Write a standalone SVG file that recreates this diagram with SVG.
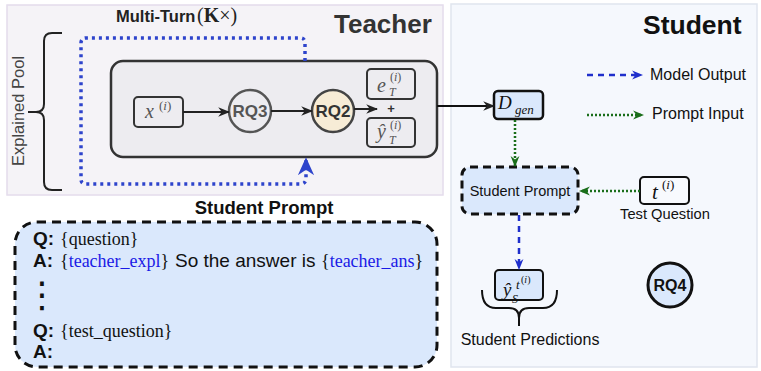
<svg xmlns="http://www.w3.org/2000/svg" width="761" height="371" viewBox="0 0 761 371">
<style>
.sans{font-family:"Liberation Sans",Arial,sans-serif}
.serif{font-family:"Liberation Serif","Times New Roman",serif}
.math{font-family:"Liberation Serif","Times New Roman",serif;font-style:italic}
.b{font-weight:bold}
.blue{fill:#1a1ae6}
</style>
<defs>
<marker id="ak" viewBox="0 0 10 10" refX="9" refY="5" markerWidth="12" markerHeight="12" markerUnits="userSpaceOnUse" orient="auto"><path d="M0,1 L10,5 L0,9 L3,5 z" fill="#222"/></marker>
<marker id="ab" viewBox="0 0 10 10" refX="9" refY="5" markerWidth="11" markerHeight="11" markerUnits="userSpaceOnUse" orient="auto"><path d="M0,1 L10,5 L0,9 L3,5 z" fill="#1f2fcc"/></marker>
<marker id="abl" viewBox="0 0 10 10" refX="9" refY="5" markerWidth="18" markerHeight="18" markerUnits="userSpaceOnUse" orient="auto"><path d="M0,0.5 L10,5 L0,9.5 L3,5 z" fill="#2e44cc"/></marker>
<marker id="ag" viewBox="0 0 10 10" refX="9" refY="5" markerWidth="11" markerHeight="11" markerUnits="userSpaceOnUse" orient="auto"><path d="M0,1 L10,5 L0,9 L3,5 z" fill="#1a6e1a"/></marker>
</defs>

<!-- panels -->
<g id="teacher-panel">
<rect x="7" y="5" width="436" height="190" fill="#f5f3f7" stroke="#e4dcec" stroke-width="1.5"/>
<text x="334" y="33" class="sans b" font-size="26" fill="#333">Teacher</text>
</g>
<g id="student-panel">
<rect x="451" y="4" width="306" height="363" fill="#f5f8fd" stroke="#dfe5ee" stroke-width="1.5"/>
<text x="643" y="34" class="sans b" font-size="26.5" fill="#111">Student</text>
</g>

<!-- explained pool -->
<g id="explained-pool">
<path d="M62,33 L52,33 Q44,33 44,41 L44,104 Q44,112 36,112 L28,112 M36,112 Q44,112 44,120 L44,182 Q44,190 52,190 L62,190" stroke="#222" stroke-width="2" fill="none"/>
<text transform="translate(23.5,111) rotate(-90)" text-anchor="middle" class="sans" font-size="16.5" fill="#444">Explained Pool</text>
</g>

<g id="multi-turn-label">
<text x="116" y="22" class="sans b" font-size="16.5" fill="#222">Multi-Turn</text>
<text x="197" y="22" class="serif" font-size="20" fill="#222">(<tspan font-weight="bold">K</tspan>×)</text>
</g>

<!-- inner teacher box -->
<g id="teacher-box">
<rect x="111" y="61" width="326" height="96" rx="12" fill="#edecf0" stroke="#333" stroke-width="2.5"/>
</g>

<g id="node-x">
<rect x="134" y="97" width="49" height="30" rx="4" fill="#edecf0" stroke="#333" stroke-width="2"/>
<text x="145" y="118" class="math" font-size="20" fill="#555">x</text>
<text x="159" y="110" class="serif" font-size="13" fill="#555">(<tspan font-style="italic">i</tspan>)</text>
</g>

<g id="node-rq3">
<circle cx="250" cy="111" r="21" fill="#edecf0" stroke="#555" stroke-width="2.5"/>
<text x="250" y="117" text-anchor="middle" class="sans b" font-size="17" fill="#555">RQ3</text>
</g>

<g id="node-rq2">
<circle cx="333" cy="111" r="21" fill="#f7ecd6" stroke="#444" stroke-width="2.5"/>
<text x="333" y="117" text-anchor="middle" class="sans b" font-size="17" fill="#333">RQ2</text>
</g>

<g id="node-e">
<rect x="367" y="69" width="48" height="30" rx="4" fill="#edecf0" stroke="#333" stroke-width="2"/>
<text x="377" y="92" class="math" font-size="20" fill="#555">e</text>
<text x="390" y="81" class="serif" font-size="12" fill="#555">(<tspan font-style="italic">i</tspan>)</text>
<text x="389" y="96" class="math" font-size="12" fill="#555">T</text>
</g>

<g id="plus">
<text x="391" y="113" text-anchor="middle" class="sans b" font-size="13" fill="#333">+</text>
</g>

<g id="node-yhat-t">
<rect x="367" y="118" width="48" height="29" rx="4" fill="#edecf0" stroke="#333" stroke-width="2"/>
<text x="377" y="138" class="math" font-size="20" fill="#555">ŷ</text>
<text x="390" y="129" class="serif" font-size="12" fill="#555">(<tspan font-style="italic">i</tspan>)</text>
<text x="389" y="144" class="math" font-size="12" fill="#555">T</text>
</g>

<!-- student side nodes -->
<g id="node-dgen">
<rect x="494" y="91" width="49" height="28" rx="4" fill="#dae8fc" stroke="#111" stroke-width="2.5"/>
<text x="498" y="109" class="math" font-size="19" fill="#111">D</text>
<text x="515" y="114" class="math" font-size="13" fill="#111">gen</text>
</g>

<g id="node-student-prompt">
<rect x="462" y="167" width="116" height="47" rx="8" fill="#dae8fc" stroke="#111" stroke-width="3" stroke-dasharray="8 5"/>
<text x="520" y="196" text-anchor="middle" class="sans" font-size="14.5" fill="#111">Student Prompt</text>
</g>

<g id="node-test-question">
<rect x="640" y="177" width="49" height="27" rx="4" fill="#f8fafe" stroke="#111" stroke-width="2"/>
<text x="652" y="199" class="math" font-size="21" fill="#111">t</text>
<text x="662" y="189" class="serif" font-size="13" fill="#111">(<tspan font-style="italic">i</tspan>)</text>
<text x="665" y="219" text-anchor="middle" class="sans" font-size="14.7" fill="#111">Test Question</text>
</g>

<g id="node-yhat-s">
<rect x="495" y="270" width="48" height="30" rx="4" fill="#dae8fc" stroke="#111" stroke-width="2"/>
<text x="503" y="296" class="math" font-size="19" fill="#111">ŷ</text>
<text x="512" y="303" class="math" font-size="12" fill="#111">S</text>
<text x="516" y="289" class="math" font-size="13" fill="#111">t</text>
<text x="521" y="283" class="serif" font-size="10" fill="#111">(<tspan font-style="italic">i</tspan>)</text>
</g>

<g id="student-predictions">
<path d="M482,290 Q482,308 496,308 L509,308 Q519,308 519,318 L519,326 M519,318 Q519,308 529,308 L543,308 Q557,308 557,290" stroke="#111" stroke-width="2" fill="none"/>
<text x="530" y="345" text-anchor="middle" class="sans" font-size="16" fill="#111">Student Predictions</text>
</g>

<g id="node-rq4">
<circle cx="670" cy="285" r="22" fill="#dae8fc" stroke="#111" stroke-width="3"/>
<text x="670" y="291" text-anchor="middle" class="sans b" font-size="16" fill="#111">RQ4</text>
</g>

<!-- legend -->
<g id="legend">
<line x1="587" y1="75" x2="642" y2="75" stroke="#1f2fcc" stroke-width="2.5" stroke-dasharray="6 5" marker-end="url(#ab)"/>
<text x="650" y="80" class="sans" font-size="16" fill="#111">Model Output</text>
<line x1="587" y1="115" x2="643" y2="115" stroke="#1a6e1a" stroke-width="2.5" stroke-dasharray="2 2" marker-end="url(#ag)"/>
<text x="652" y="119" class="sans" font-size="16" fill="#111">Prompt Input</text>
</g>

<!-- prompt template -->
<g id="prompt-template">
<text x="264" y="214" text-anchor="middle" class="sans b" font-size="18.5" fill="#111">Student Prompt</text>
<rect x="15" y="222" width="422" height="145" rx="22" fill="#dae8fc" stroke="#111" stroke-width="3" stroke-dasharray="9 6"/>
<text x="33" y="245" class="sans b" font-size="19" fill="#111">Q:</text>
<text x="60" y="245" class="serif" font-size="18" fill="#111">{question}</text>
<text x="33" y="267" class="sans b" font-size="19" fill="#111">A:</text>
<text x="60" y="267" class="serif" font-size="18" fill="#111">{<tspan class="blue">teacher_expl</tspan>}</text>
<text x="175" y="267" class="sans" font-size="19" fill="#111">So the answer is</text>
<text x="321" y="267" class="serif" font-size="18" fill="#111">{<tspan class="blue">teacher_ans</tspan>}</text>
<text x="42" y="307" text-anchor="middle" font-family="DejaVu Sans,sans-serif" font-size="36" fill="#111">⋮</text>
<text x="33" y="337" class="sans b" font-size="19" fill="#111">Q:</text>
<text x="60" y="337" class="serif" font-size="18" fill="#111">{test_question}</text>
<text x="33" y="358" class="sans b" font-size="19" fill="#111">A:</text>
</g>

<!-- connectors -->
<g id="connectors" fill="none">
<line x1="183" y1="112" x2="229" y2="112" stroke="#222" stroke-width="2" marker-end="url(#ak)"/>
<line x1="271" y1="111" x2="312" y2="111" stroke="#222" stroke-width="2" marker-end="url(#ak)"/>
<line x1="354" y1="109" x2="377" y2="109" stroke="#222" stroke-width="2" marker-end="url(#ak)"/>
<line x1="437" y1="106" x2="494" y2="106" stroke="#111" stroke-width="2" marker-end="url(#ak)"/>
<path d="M305,61 L305,43 Q305,38 300,38 L86,38 Q81,38 81,43 L81,179 Q81,184 86,184 L300,184 Q306,184 306,178 L306,159" stroke="#2e44cc" stroke-width="3.5" stroke-dasharray="3 4" marker-end="url(#abl)"/>
<line x1="515" y1="120" x2="515" y2="166" stroke="#1a6e1a" stroke-width="2.5" stroke-dasharray="2 2" marker-end="url(#ag)"/>
<line x1="640" y1="191" x2="580" y2="191" stroke="#1a6e1a" stroke-width="2.5" stroke-dasharray="2 2" marker-end="url(#ag)"/>
<line x1="519" y1="215" x2="519" y2="269" stroke="#1f2fcc" stroke-width="2.5" stroke-dasharray="6 5" marker-end="url(#ab)"/>
</g>
</svg>
